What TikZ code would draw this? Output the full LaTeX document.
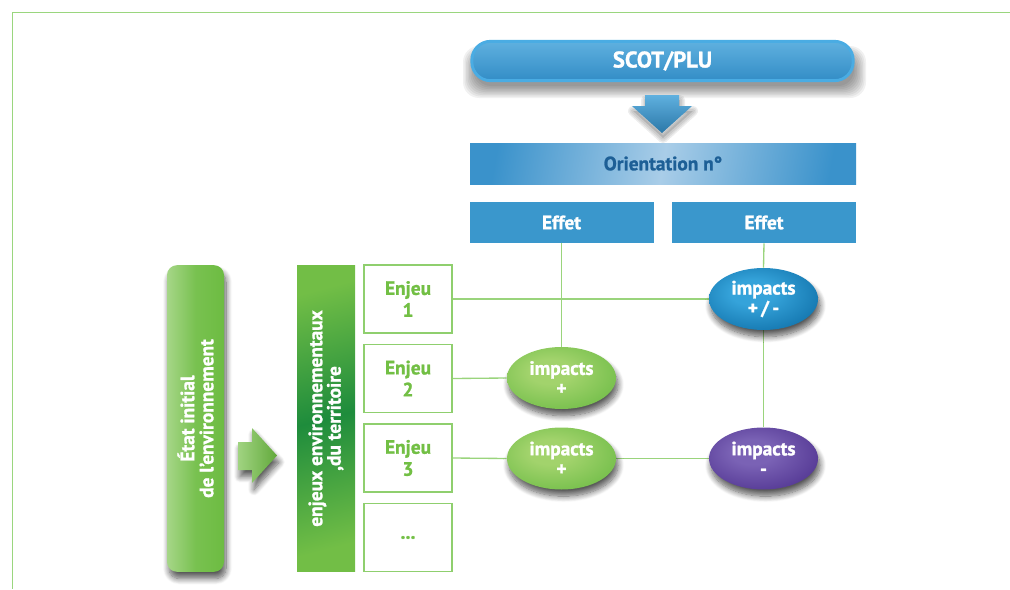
\documentclass[tikz,border=0pt]{standalone}
\usepackage{fontspec}
\setmainfont{PT Sans}[BoldFeatures={FakeBold=1.2}]
\usetikzlibrary{shapes.geometric,shadows.blur,backgrounds,calc}
\definecolor{bordergreen}{HTML}{9AD67E}
\definecolor{linegreen}{HTML}{9AD47C}
\definecolor{effetblue}{HTML}{3A97CC}
\definecolor{orientdark}{HTML}{3A92CB}
\definecolor{orientlight}{HTML}{A9CDE8}
\definecolor{orienttext}{HTML}{1D5F96}
\definecolor{pillring}{HTML}{4AACE3}
\definecolor{pilltop}{HTML}{5FB0DF}
\definecolor{pillbottom}{HTML}{338DC6}
\definecolor{enjeugreen}{HTML}{72BF44}
\definecolor{enjeuline}{HTML}{8FCF6E}
\definecolor{etatlight}{HTML}{A6D688}
\definecolor{etatdark}{HTML}{6DBC42}
\definecolor{barlight}{HTML}{72BE46}
\definecolor{bardark}{HTML}{1E8C3C}
\definecolor{gIn}{HTML}{A2D36C}
\definecolor{gOut}{HTML}{68B942}
\definecolor{bIn}{HTML}{35A3DA}
\definecolor{bOut}{HTML}{0A69A2}
\definecolor{pIn}{HTML}{7A62B5}
\definecolor{pOut}{HTML}{4A2D8B}
\pgfdeclareradialshading{ellgreen}{\pgfpoint{-6bp}{6bp}}{color(0bp)=(gIn); color(10bp)=(gIn); color(38bp)=(gOut); color(70bp)=(gOut)}
\pgfdeclareradialshading{ellblue}{\pgfpoint{-6bp}{6bp}}{color(0bp)=(bIn); color(10bp)=(bIn); color(38bp)=(bOut); color(70bp)=(bOut)}
\pgfdeclareradialshading{ellpurple}{\pgfpoint{-6bp}{6bp}}{color(0bp)=(pIn); color(10bp)=(pIn); color(38bp)=(pOut); color(70bp)=(pOut)}
\begin{document}
\begin{tikzpicture}[x=0.75pt,y=-0.75pt,
  softshadow/.style={blur shadow={shadow xshift=1.5pt, shadow yshift=-5pt, shadow opacity=65, shadow blur steps=10, shadow blur radius=4.5pt}},
  pill/.style={rounded corners=14pt, draw=pillring, line width=2.2pt, top color=pilltop, bottom color=pillbottom,
    minimum width=286pt, minimum height=29.5pt, inner sep=0pt, text=white,
    font=\bfseries\fontsize{17}{20}\selectfont},
  shadowlayer/.style={fill=black, opacity=0.055, rounded corners=12pt},
  arrowhalo/.style={draw=black, opacity=0.07, line join=round},
  orientbox/.style={left color=orientdark, right color=orientdark, middle color=orientlight, shading angle=80,
    minimum width=289.5pt, minimum height=30.75pt, inner sep=0pt, text=orienttext,
    font=\bfseries\fontsize{14.5}{16}\selectfont},
  effetbox/.style={fill=effetblue, minimum width=138pt, minimum height=30.75pt, inner sep=0pt, text=white,
    font=\bfseries\fontsize{14.5}{16}\selectfont},
  etatbox/.style={rotate=90, rounded corners=7.5pt, left color=etatlight, right color=etatdark, middle color=etatdark!80!etatlight,
    minimum width=230pt, minimum height=42.75pt, inner sep=0pt, text=white, align=center, softshadow,
    font=\bfseries\fontsize{14.5}{14.3}\selectfont},
  enjeuxbar/.style={rotate=90, top color=barlight, bottom color=barlight, middle color=bardark, shading angle=15,
    minimum width=230pt, minimum height=43.5pt, inner sep=0pt, text=white, align=center,
    font=\bfseries\fontsize{14.5}{13.8}\selectfont},
  enjeubox/.style={draw=enjeuline, line width=0.8pt, fill=white, minimum width=66pt, minimum height=51pt,
    inner sep=0pt, text=enjeugreen, align=center, font=\bfseries\fontsize{14.5}{16.5}\selectfont},
  impact/.style={ellipse, minimum width=81.75pt, minimum height=46.5pt, inner sep=0pt, text=white, align=center,
    softshadow, font=\bfseries\fontsize{14.5}{15}\selectfont},
  impgreen/.style={impact, shading=ellgreen},
  impblue/.style={impact, shading=ellblue},
  imppurple/.style={impact, shading=ellpurple},
  link/.style={draw=linegreen, line width=1pt}
]
\useasboundingbox (0,0) rectangle (1010,589);
\begin{scope}[on background layer]
  \fill[white] (0,0) rectangle (1010,589);
\end{scope}
\draw[bordergreen, line width=1.2pt] (1010,12.5) -- (12.5,12.5) -- (12.5,589);
% first blurred shadow of the file, hidden under the "Orientation" band drawn later
\path[softshadow, fill=white] (660,158) rectangle (662,160);

% top part
\foreach \k in {0,...,8} {
  \fill[shadowlayer] (463+1.5*\k, 46+1.2*\k) rectangle (866-1.5*\k, 98-1.5*\k);
}
\node[pill] (scot) at (662.5,61) {SCOT/PLU};
\begin{scope}[shift={(1,5)}]
  \foreach \w in {10,7,4} {
    \draw[arrowhalo, line width=\w*0.75pt]
      (645,95) -- (679,95) -- (679,106) -- (692,106) -- (662,133) -- (632,106) -- (645,106) -- cycle;
  }
  \fill[black, opacity=0.12]
    (645,95) -- (679,95) -- (679,106) -- (692,106) -- (662,133) -- (632,106) -- (645,106) -- cycle;
\end{scope}
\path[top color=pilltop, bottom color=pillbottom!85!black]
  (645,95) -- (679,95) -- (679,106) -- (692,106) -- (662,133) -- (632,106) -- (645,106) -- cycle;
\node[orientbox] (orient) at (663,163.5) {Orientation n°};
\node[effetbox] (effet1) at (561.5,222.5) {Effet};
\node[effetbox] (effet2) at (764,222.5) {Effet};

% left part
\node[etatbox] (etat) at (195.5,418.5) {État initial\\de l’environnement};
\path[softshadow, left color=etatlight!90!etatdark, right color=etatdark!90!black]
  (238,442) -- (252,442) -- (252,428) -- (277,455.5) -- (252,483) -- (252,470) -- (238,470) -- cycle;
\node[enjeuxbar] (enjeux) at (326,418.5) {enjeux environnementaux\\,du territoire};

\node[enjeubox] (enj1) at (408,299) {Enjeu\\1};
\node[enjeubox] (enj2) at (408,378.5) {Enjeu\\2};
\node[enjeubox] (enj3) at (408,458) {Enjeu\\3};
\node[enjeubox] (enj4) at (408,537.5) {...};

% impacts
\node[impblue] (imp1) at (763.5,299) {impacts\\+\,/\,-};
\node[impgreen] (imp2) at (561.5,378) {impacts\\+};
\node[impgreen] (imp3) at (561.5,458.5) {impacts\\+};
\node[imppurple] (imp4) at (763.5,458.5) {impacts\\-};

\begin{scope}[on background layer]
  \draw[link] (enj1.east) -- (imp1.west);
  \draw[link] (enj2.east) -- (imp2.west);
  \draw[link] (enj3.east) -- (imp3.west);
  \draw[link] (imp3.east) -- (imp4.west);
  \draw[link] (effet1.south) -- (imp2.north);
  \draw[link] (effet2.south) -- (imp1.north);
  \draw[link] (imp1.south) -- (imp4.north);
\end{scope}
\end{tikzpicture}
\end{document}
